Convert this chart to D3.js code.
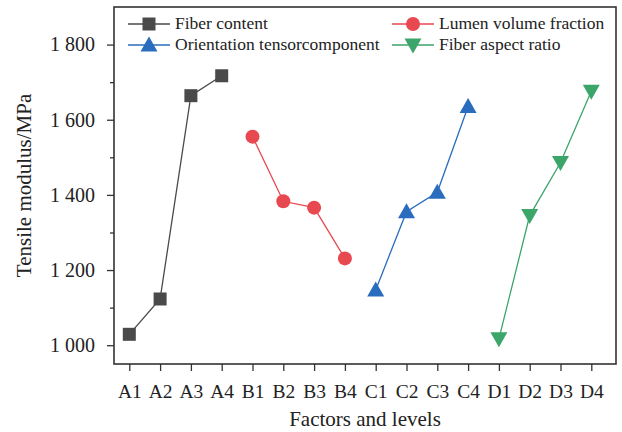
<!DOCTYPE html>
<html><head><meta charset="utf-8">
<script src="https://cdn.jsdelivr.net/npm/d3@7"></script>
<style>body{margin:0;background:#fff}svg{display:block}svg text{font-family:"Liberation Serif","Times New Roman",Times,serif !important;}</style>
</head><body><svg id="c" width="622" height="432"></svg>
<script>
const categories = ["A1","A2","A3","A4","B1","B2","B3","B4","C1","C2","C3","C4","D1","D2","D3","D4"];
const fiberContent = [1029, 1123, 1664, 1717];
const lumenVolume = [1555, 1383, 1366, 1231];
const orientation = [1147, 1355, 1407, 1635];
const aspectRatio = [1017, 1345, 1486, 1676];
const yTicks = [1000, 1200, 1400, 1600, 1800];
const yMinor = [1100, 1300, 1500, 1700];

const series = [
  {name:"Fiber content", cats:categories.slice(0,4), vals:fiberContent, color:"#4a4a4a", marker:"square"},
  {name:"Lumen volume fraction", cats:categories.slice(4,8), vals:lumenVolume, color:"#e8484f", marker:"circle"},
  {name:"Orientation tensorcomponent", cats:categories.slice(8,12), vals:orientation, color:"#2a6cbd", marker:"up"},
  {name:"Fiber aspect ratio", cats:categories.slice(12,16), vals:aspectRatio, color:"#3ba56a", marker:"down"}
];

const svg = d3.select("#c");
const L=114, R=616, T=7, B=364;
const x = d3.scalePoint().domain(categories).range([L+15.3, R-24.7]);
const y = d3.scaleLinear().domain([950,1900]).range([B,T]);
const axisColor="#333";

// axes
const gx = svg.append("g").attr("transform",`translate(0,${B})`)
  .call(d3.axisBottom(x).tickSize(7).tickPadding(13));
gx.select(".domain").remove();
gx.selectAll("line").attr("stroke",axisColor).attr("stroke-width",1.3);
gx.selectAll("text").attr("font-size",19.5).attr("fill","#222");

const gy = svg.append("g").attr("transform",`translate(${L},0)`)
  .call(d3.axisLeft(y).tickValues(yTicks).tickSize(7).tickPadding(12).tickFormat(d=>d3.format(",")(d).replace(","," ")));
gy.select(".domain").remove();
gy.selectAll("line").attr("stroke",axisColor).attr("stroke-width",1.3);
gy.selectAll("text").attr("font-size",20).attr("fill","#222");
svg.append("g").attr("transform",`translate(${L},0)`)
  .call(d3.axisLeft(y).tickValues(yMinor).tickSize(4).tickFormat(""))
  .call(g=>{g.select(".domain").remove();g.selectAll("line").attr("stroke",axisColor).attr("stroke-width",1.3);});

svg.append("rect").attr("x",L).attr("y",T).attr("width",R-L).attr("height",B-T)
  .attr("fill","none").attr("stroke",axisColor).attr("stroke-width",1.6);

// titles
svg.append("text").attr("x",(L+R)/2).attr("y",426).attr("text-anchor","middle")
  .attr("font-size",21).attr("fill","#222").text("Factors and levels");
svg.append("text").attr("transform",`translate(31,${(T+B)/2}) rotate(-90)`).attr("text-anchor","middle")
  .attr("font-size",21).attr("fill","#222").text("Tensile modulus/MPa");

function drawMarker(g, type, cx, cy, color){
  if(type==="square") g.append("rect").attr("x",cx-6.5).attr("y",cy-6.5).attr("width",13).attr("height",13).attr("fill",color);
  else if(type==="circle") g.append("circle").attr("cx",cx).attr("cy",cy).attr("r",7).attr("fill",color);
  else if(type==="up") g.append("path").attr("d",`M${cx},${cy-8.5}L${cx+8.5},${cy+6.5}L${cx-8.5},${cy+6.5}Z`).attr("fill",color);
  else g.append("path").attr("d",`M${cx},${cy+8.5}L${cx+8.5},${cy-6.5}L${cx-8.5},${cy-6.5}Z`).attr("fill",color);
}

const line = d3.line().x(d=>x(d[0])).y(d=>y(d[1]));
series.forEach(s=>{
  const pts = s.cats.map((c,i)=>[c,s.vals[i]]);
  const g = svg.append("g");
  g.append("path").attr("d",line(pts)).attr("fill","none").attr("stroke",s.color).attr("stroke-width",1.3);
  pts.forEach(p=>drawMarker(g,s.marker,x(p[0]),y(p[1]),s.color));
});

// legend
const legendPos = [
  {s:series[0], lx:128, ly:24},
  {s:series[1], lx:392, ly:24},
  {s:series[2], lx:128, ly:45},
  {s:series[3], lx:392, ly:45}
];
legendPos.forEach(p=>{
  const g = svg.append("g");
  g.append("line").attr("x1",p.lx).attr("x2",p.lx+42).attr("y1",p.ly).attr("y2",p.ly).attr("stroke",p.s.color).attr("stroke-width",1.3);
  drawMarker(g,p.s.marker,p.lx+21,p.ly,p.s.color);
  g.append("text").attr("x",p.lx+47).attr("y",p.ly+5).attr("font-size",17.5).attr("fill","#222").text(p.s.name);
});
</script></body></html>
